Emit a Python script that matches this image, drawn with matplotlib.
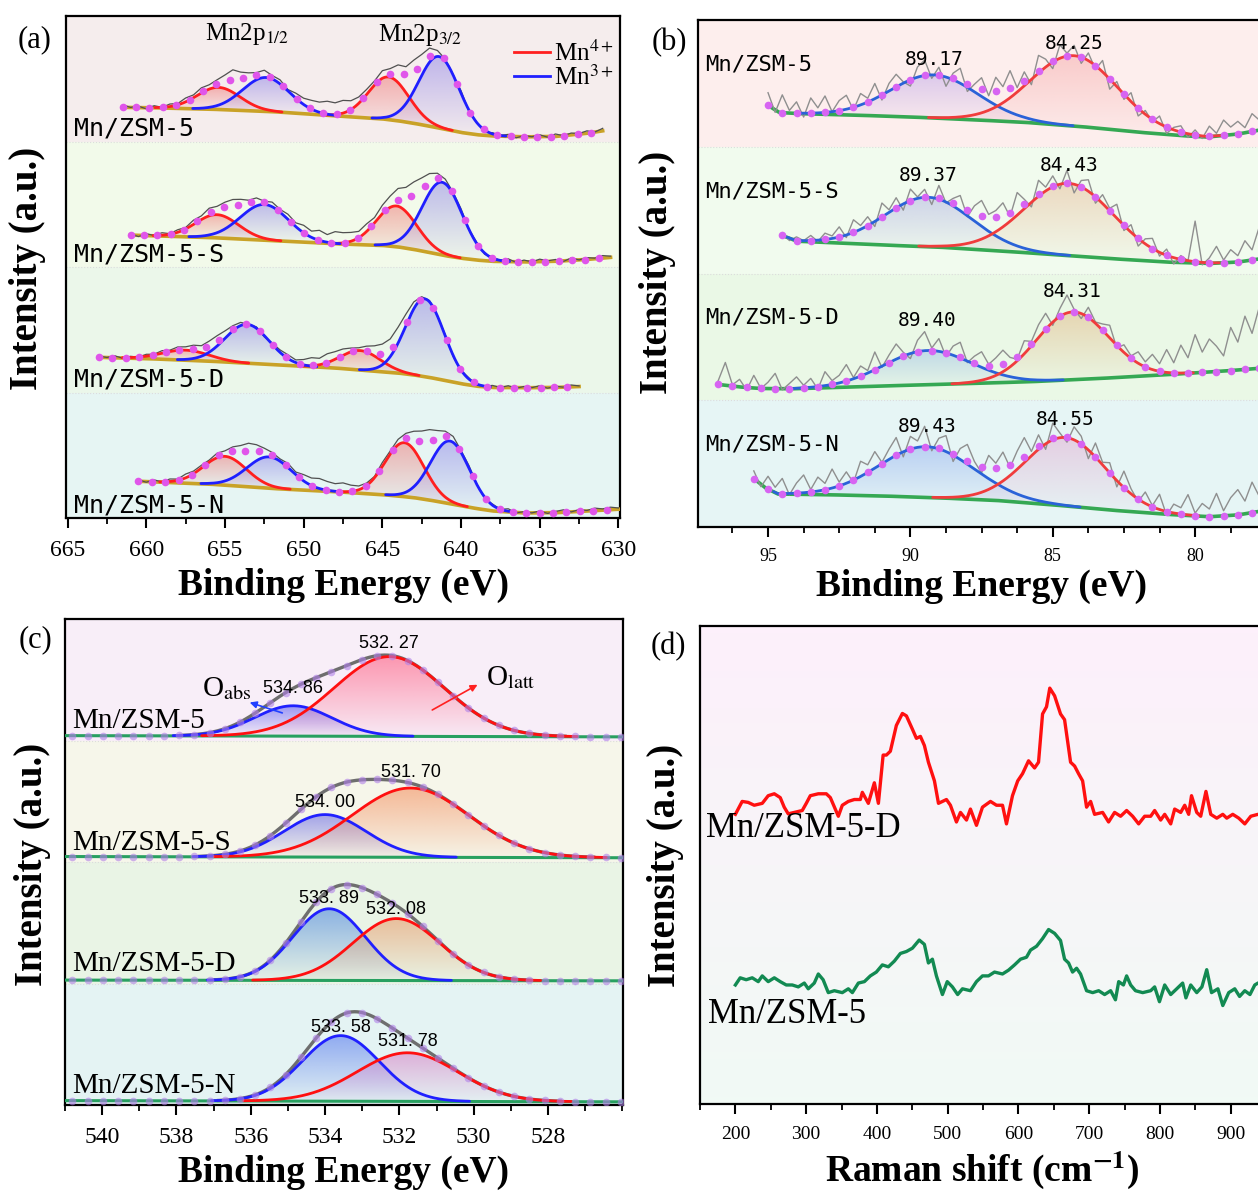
import numpy as np
import matplotlib.pyplot as plt
import matplotlib.colors as mcolors
from matplotlib.ticker import MultipleLocator

plt.rcParams['font.family'] = 'Liberation Serif'
plt.rcParams['mathtext.fontset'] = 'stix'

samples = ['Mn/ZSM-5', 'Mn/ZSM-5-S', 'Mn/ZSM-5-D', 'Mn/ZSM-5-N']

# ---------------- (a) Mn 2p ----------------
# fitted peaks: (centre eV, height, fwhm); heights in units of one strip
a_mn4 = [[(655.4, 0.176, 3.2), (644.6, 0.34, 3.0)],
         [(655.5, 0.185, 3.2), (644.1, 0.325, 3.0)],
         [(657.5, 0.08, 3.5), (646.4, 0.155, 3.0)],
         [(655.0, 0.23, 3.2), (643.6, 0.43, 2.9)]]
a_mn3 = [[(652.4, 0.27, 3.5), (641.4, 0.57, 3.0)],
         [(652.5, 0.285, 3.6), (641.2, 0.58, 3.0)],
         [(653.6, 0.31, 3.3), (642.3, 0.62, 2.9)],
         [(652.2, 0.25, 3.3), (640.7, 0.50, 2.9)]]
# Shirley background read at these energies
a_bg_be = [663.5, 660, 656, 652, 648, 645, 644, 643, 642, 641, 640, 639, 638, 636, 634, 632, 630]
a_bg_0 = [0.275, 0.27, 0.258, 0.238, 0.205, 0.18, 0.165, 0.145, 0.122, 0.097, 0.072, 0.054, 0.044, 0.037, 0.04, 0.065, 0.105]
a_bg_1 = [0.265, 0.25, 0.235, 0.21, 0.185, 0.172, 0.16, 0.14, 0.115, 0.09, 0.07, 0.055, 0.045, 0.04, 0.045, 0.06, 0.082]
a_bg_2 = [0.282, 0.27, 0.25, 0.222, 0.195, 0.165, 0.155, 0.14, 0.12, 0.095, 0.07, 0.05, 0.04, 0.038, 0.04, 0.05, 0.06]
a_bg_3 = [0.31, 0.29, 0.27, 0.235, 0.21, 0.186, 0.175, 0.162, 0.143, 0.12, 0.097, 0.075, 0.056, 0.04, 0.042, 0.055, 0.07]
# raw spectra: first energy, then measured minus fit every 0.5 eV
a_start = [661.5, 661.0, 663.0, 660.5]
a_res_0 = [0.02, 0.0, 0.01, -0.01, 0.015, 0.0, 0.02, 0.01, 0.03, 0.02, 0.035, 0.02, 0.03, 0.05, 0.08, 0.05,
           0.03, 0.02, 0.04, 0.02, 0.03, 0.01, 0.04, 0.05, 0.07, 0.08, 0.10, 0.09, 0.10, 0.07, 0.05, 0.04,
           0.03, 0.05, 0.04, 0.07, 0.06, 0.09, 0.08, 0.07, 0.03, 0.01, 0.0, 0.02, -0.01, 0.0, -0.02, 0.01,
           0.0, 0.015, -0.01, 0.01, 0.0, 0.015, -0.005, 0.02, 0.0, 0.015, 0.005, 0.02, 0.0, 0.02]
a_res_1 = [0.01, -0.01, 0.015, 0.0, 0.02, 0.005, 0.02, 0.01, 0.03, 0.02, 0.04, 0.025, 0.04, 0.05, 0.04, 0.02,
           0.03, 0.01, 0.03, 0.02, 0.04, 0.03, 0.06, 0.05, 0.08, 0.06, 0.09, 0.08, 0.07, 0.05, 0.06, 0.04,
           0.06, 0.07, 0.09, 0.08, 0.10, 0.09, 0.07, 0.04, 0.02, 0.01, 0.02, 0.0, 0.01, -0.01, 0.01, 0.0,
           0.02, -0.005, 0.015, 0.0, 0.02, 0.005, 0.015, -0.005, 0.02, 0.0, 0.015, 0.005, 0.02, 0.01]
a_res_2 = [0.01, 0.0, 0.015, -0.005, 0.01, 0.0, 0.015, 0.005, 0.02, 0.01, 0.025, 0.02, 0.03, 0.02, 0.04, 0.05,
           0.04, 0.03, 0.02, 0.0, 0.01, -0.01, 0.01, 0.02, 0.03, 0.02, 0.04, 0.06, 0.05, 0.07, 0.06, 0.05,
           0.03, 0.02, 0.04, 0.06, 0.08, 0.09, 0.10, 0.08, 0.05, 0.02, 0.01, 0.0, 0.01, -0.01, 0.0, 0.01,
           -0.01, 0.0, 0.015, 0.0, 0.015, -0.005, 0.01, 0.0, 0.015, -0.005, 0.01, 0.0, 0.015, 0.005]
a_res_3 = [0.01, -0.005, 0.015, 0.0, 0.02, 0.01, 0.03, 0.02, 0.02, 0.01, 0.02, 0.01, 0.03, 0.04, 0.06, 0.05,
           0.03, 0.02, 0.01, 0.03, 0.02, 0.05, 0.06, 0.08, 0.07, 0.06, 0.07, 0.05, 0.03, 0.02, 0.01, 0.03,
           0.02, 0.03, 0.04, 0.06, 0.08, 0.09, 0.06, 0.04, 0.03, 0.01, 0.02, 0.0, -0.01, 0.01, 0.0, 0.02,
           -0.005, 0.01, 0.0, 0.015, -0.005, 0.01, 0.02, 0.0, 0.015, 0.005, 0.02, 0.01, 0.02, 0.01]

# ---------------- (b) Mn 3s ----------------
b_blue = [(89.17, 0.34, 3.6), (89.37, 0.39, 3.6), (89.40, 0.27, 3.6), (89.43, 0.40, 3.9)]
b_red = [(84.25, 0.555, 3.6), (84.43, 0.57, 3.7), (84.31, 0.535, 3.0), (84.55, 0.54, 3.3)]
b_bg_x0 = [95.1, 94.6, 94.0, 92, 90, 88, 86, 84, 82, 80.5, 79.6, 78.5, 77.3]
b_bg_0 = [0.34, 0.27, 0.262, 0.25, 0.235, 0.215, 0.193, 0.159, 0.115, 0.088, 0.076, 0.10, 0.15]
b_bg_x1 = [94.5, 94.0, 93.0, 91, 89, 87, 85, 83, 81, 79.5, 78.5, 77.3]
b_bg_1 = [0.30, 0.255, 0.245, 0.225, 0.208, 0.18, 0.15, 0.118, 0.09, 0.079, 0.09, 0.13]
b_bg_x2 = [96.8, 96.0, 95.3, 94.2, 91.4, 88.5, 85.8, 83.5, 81.1, 79.0, 77.3]
b_bg_2 = [0.126, 0.105, 0.093, 0.09, 0.11, 0.128, 0.146, 0.17, 0.20, 0.23, 0.26]
b_bg_x3 = [95.6, 95.1, 94.65, 93, 91, 89, 87, 85, 83, 81, 79.5, 78.5, 77.3]
b_bg_3 = [0.40, 0.31, 0.26, 0.255, 0.245, 0.23, 0.21, 0.175, 0.134, 0.10, 0.081, 0.095, 0.14]
# raw spectra: first energy, then measured minus fit every 0.25 eV
b_start = [95.0, 94.5, 96.75, 95.5]
b_res_0 = [0.10, -0.02, 0.14, 0.02, 0.09, -0.03, 0.12, 0.04, 0.13, 0.0, 0.08, 0.11, -0.02, 0.09, 0.03, 0.12,
           -0.04, 0.06, 0.10, 0.01, -0.05, 0.08, 0.12, -0.03, 0.06, -0.08, 0.04, 0.10, -0.06, 0.02,
           0.09, -0.04, 0.11, 0.03, 0.14, -0.02, 0.07, -0.07, 0.12, 0.05, -0.06, 0.10, 0.02, 0.08, -0.05,
           0.06, -0.03, 0.09, -0.08, 0.04, -0.04, 0.07, -0.06, 0.03, -0.02, 0.06, -0.05, 0.02, 0.05, -0.03,
           0.04, -0.02, 0.08, 0.02, 0.12, 0.06, 0.10, 0.04, 0.14, 0.08, 0.12]
b_res_1 = [0.02, -0.02, 0.03, 0.0, 0.04, -0.01, 0.05, 0.02, 0.08, -0.02, 0.10, 0.03, 0.07, -0.04, 0.11, 0.02,
           0.08, -0.05, 0.09, 0.01, 0.06, -0.06, 0.10, -0.02, 0.04, 0.09, -0.05, 0.06, 0.12, 0.02,
           0.05, 0.10, -0.03, 0.13, 0.04, -0.06, 0.11, 0.02, 0.08, -0.04, 0.10, -0.07, 0.05, 0.09, -0.05,
           0.07, 0.02, 0.11, -0.04, 0.06, -0.06, 0.04, 0.08, -0.03, 0.05, -0.05, 0.03, 0.0, 0.32, -0.02,
           0.04, 0.13, 0.02, 0.10, 0.05, 0.16, 0.08, 0.25, 0.18]
b_res_2 = [0.03, 0.18, 0.01, 0.06, -0.02, 0.10, 0.0, 0.05, 0.12, -0.01, 0.04, 0.09, 0.02, 0.07, -0.02, 0.11,
           0.03, 0.06, 0.13, 0.01, 0.08, 0.02, 0.14, -0.01, 0.06, 0.12, 0.03, -0.04, 0.09, 0.15, 0.02,
           0.10, -0.03, 0.07, 0.12, -0.02, 0.05, 0.10, 0.01, 0.06, 0.11, 0.03, -0.02, 0.08, 0.02, 0.09,
           0.12, -0.03, 0.06, 0.14, 0.02, -0.04, 0.08, 0.01, 0.05, 0.10, -0.02, 0.06, 0.02, 0.09, 0.04,
           0.12, 0.06, 0.18, 0.08, 0.22, 0.12, 0.30, 0.16, 0.26, 0.20, 0.12, 0.34, 0.22, 0.42, 0.28, 0.48, 0.36]
b_res_3 = [0.06, -0.02, 0.10, 0.04, 0.12, -0.01, 0.08, 0.14, 0.02, 0.11, 0.05, 0.15, 0.03, 0.09, -0.02, 0.12,
           0.06, 0.13, 0.01, 0.08, 0.14, -0.04, 0.10, 0.05, 0.16, -0.03, 0.08, 0.12, -0.06, 0.07, 0.13,
           0.02, -0.05, 0.10, 0.04, 0.12, -0.02, 0.08, 0.15, 0.0, 0.09, -0.06, 0.12, 0.03, -0.04, 0.10,
           0.06, -0.07, 0.11, 0.02, 0.08, -0.05, 0.13, 0.04, -0.02, 0.09, 0.01, 0.12, -0.03, 0.07, 0.05,
           0.16, 0.02, 0.10, 0.06, 0.18, 0.04, 0.14, 0.20, 0.10, 0.24, 0.12, 0.28]

# ---------------- (c) O 1s ----------------
c_oabs = [(534.86, 0.25, 2.45), (534.00, 0.35, 2.6), (533.89, 0.59, 2.3), (533.58, 0.54, 2.45)]
c_olatt = [(532.27, 0.656, 3.5), (531.70, 0.57, 3.7), (532.08, 0.51, 2.75), (531.78, 0.40, 3.2)]
c_bg_left = [0.04, 0.045, 0.028, 0.036]
c_bg_right = [0.03, 0.035, 0.022, 0.026]

# ---------------- (d) Raman ----------------
d_x_D = [200, 209.6, 218, 226.6, 238, 246.4, 255, 263.4, 269, 274.7, 283.2, 294.5, 300.2, 305.9, 317.2, 328.5,
         334.2, 345.5, 351.1, 359.6, 368.1, 376.6, 379.4, 387.9, 396.4, 402.1, 408.8, 413.4, 419, 427.5, 436,
         441.7, 450.2, 455.8, 461.5, 467.1, 472.8, 481.3, 487, 498.3, 503.9, 512.4, 518.1, 526.6, 532.2, 540.7,
         549.2, 560.5, 569, 577.5, 583.1, 591.6, 599, 605.8, 614.3, 622.8, 628.4, 634.1, 639.7, 644.3, 651.1,
         659.5, 665.2, 673.7, 679.4, 685, 690.7, 696.3, 702, 707.6, 719, 727.4, 735.9, 744.4, 752.9, 761.4,
         769.9, 778.4, 786.9, 792.5, 801, 806.7, 815.2, 820.8, 829.3, 835, 840.6, 844.6, 852, 857.6, 865,
         871.8, 880.3, 888.8, 894.4, 902.9, 911.4, 919.9, 928.4, 938.5, 950]
d_y_D = [60.6, 63.3, 63.1, 62.5, 62.9, 64.5, 64.9, 64.1, 62.1, 60.7, 61.0, 61.4, 62.9, 64.5, 64.9, 64.9,
         64.1, 60.2, 62.5, 63.3, 63.7, 63.7, 65.2, 62.9, 67.2, 62.9, 73.0, 73.0, 73.8, 79.2, 81.7,
         81.2, 78.4, 76.5, 76.9, 75.0, 71.5, 67.6, 62.9, 63.7, 62.5, 59.0, 61.0, 59.4, 61.7, 58.3,
         62.1, 63.3, 62.5, 62.5, 58.6, 64.5, 67.6, 69.1, 71.8, 70.3, 71.5, 81.6, 83.1, 87.0, 85.4,
         81.6, 80.4, 71.5, 70.7, 69.1, 67.6, 62.1, 63.3, 60.6, 61.0, 59.0, 61.0, 60.2, 61.4, 60.2,
         58.6, 60.2, 60.2, 61.4, 59.4, 60.6, 58.6, 61.7, 61.0, 62.5, 60.6, 64.5, 61.0, 60.2, 65.4,
         60.6, 59.8, 60.6, 59.8, 60.6, 59.8, 58.6, 60.2, 60.6, 60.0]
d_x_0 = [200, 206.8, 215.3, 223.8, 232.3, 238, 246.4, 255, 263.4, 271.9, 280.4, 288.9, 297.4, 303, 311.5, 317.2,
         324, 331.3, 339.8, 351.1, 359.6, 365.3, 373.8, 382.3, 390.7, 399.2, 407.7, 416.2, 424.7, 433.2,
         441.7, 450.2, 459.8, 467.1, 472.8, 478.4, 484.1, 492.6, 499.4, 506.7, 514.1, 520.9, 532.2, 540.7,
         549.2, 557.7, 566.2, 577.5, 586, 594.5, 603, 611.4, 617.1, 625.6, 634.1, 642.6, 651.1, 659.5,
         665.2, 670.9, 676.5, 682.2, 687.8, 696.3, 704.9, 713.4, 721.8, 730.3, 737.1, 741.7, 748.4, 752.9,
         758.6, 765.4, 775.6, 786.9, 792.5, 799.3, 806.7, 815.2, 823.7, 832.1, 836.7, 843.5, 852, 859.3,
         866.1, 872.9, 881.9, 888.8, 897.2, 905.7, 912.5, 919.9, 927.2, 934, 938.5, 950]
d_y_0 = [24.9, 26.4, 26.0, 26.4, 25.6, 26.8, 25.6, 26.4, 25.6, 24.9, 24.9, 24.5, 25.3, 24.1, 25.3, 27.2,
         26.0, 23.3, 23.7, 23.3, 24.1, 23.3, 25.3, 25.6, 26.8, 27.6, 29.1, 28.7, 29.9, 31.5,
         31.9, 32.6, 34.3, 33.4, 29.5, 30.3, 26.8, 22.9, 25.6, 24.5, 22.9, 24.1, 23.7, 25.6,
         26.8, 26.8, 27.6, 27.2, 28.0, 29.1, 30.3, 30.7, 32.2, 33.0, 34.6, 36.5, 35.7, 34.2,
         30.3, 29.5, 27.6, 28.4, 27.2, 23.7, 23.3, 23.7, 22.9, 23.7, 21.8, 25.6, 24.9, 26.8,
         24.9, 23.7, 23.3, 23.7, 24.5, 21.4, 24.9, 22.9, 24.1, 25.3, 22.2, 24.9, 23.3, 24.5,
         28.1, 23.3, 24.1, 20.6, 23.3, 24.1, 22.5, 23.7, 22.9, 24.9, 25.3, 24.8]


def gauss(x, c, h, w):
    return h * np.exp(-4 * np.log(2) * (x - c) ** 2 / w ** 2)


def bgline(x, bx, by):
    return np.interp(x, np.array(bx)[::-1], np.array(by)[::-1])


def grad_fill(ax, x, top, base, color, a_hi, a_lo=0.03, z=2):
    poly = ax.fill_between(x, base, top, color='none', lw=0)
    img = np.zeros((64, 1, 4))
    img[..., :3] = mcolors.to_rgb(color)
    img[..., 3] = np.linspace(a_lo, a_hi, 64)[:, None]
    im = ax.imshow(img, aspect='auto', origin='lower', interpolation='bilinear',
                   extent=[x.min(), x.max(), base.min(), top.max()], zorder=z)
    im.set_clip_path(poly.get_paths()[0], transform=ax.transData)


def comp(ax, xf, base, g, off, lc, fc, a_hi, lw=2.0, thr=0.002):
    m = g > thr
    xs, b, t = xf[m], base[m] + off, base[m] + g[m] + off
    grad_fill(ax, xs, t, b, fc, a_hi)
    ax.plot(xs, t, color=lc, lw=lw, zorder=5, solid_capstyle='round')


def style_x(ax, major, minor, size, pad):
    ax.set_yticks([])
    ax.xaxis.set_major_locator(MultipleLocator(major))
    ax.xaxis.set_minor_locator(MultipleLocator(minor))
    ax.tick_params(axis='x', which='major', length=7, width=1.5, direction='out', labelsize=size, pad=pad)
    ax.tick_params(axis='x', which='minor', length=4, width=1.3, direction='out')
    for s in ax.spines.values():
        s.set_linewidth(1.6)


W, H = 1258, 1192
fig = plt.figure(figsize=(W / 100, H / 100), dpi=100)


def box(l, t, r, b):
    return [l / W, 1 - b / H, (r - l) / W, (b - t) / H]


mono = 'DejaVu Sans Mono'

# ======== panel (a) ========
ax = fig.add_axes(box(66, 16, 620, 518))
a_bgs = [a_bg_0, a_bg_1, a_bg_2, a_bg_3]
a_res = [a_res_0, a_res_1, a_res_2, a_res_3]
strip_a = ['#f5eded', '#f2faea', '#ebf7ea', '#e6f5f3']
for k in range(4):
    off = 3 - k
    ax.axhspan(off, off + 1, color=strip_a[k], lw=0, zorder=0)
    res = np.array(a_res[k])
    xr = a_start[k] - 0.5 * np.arange(len(res))
    xf = np.linspace(a_start[k], xr[-1], 700)
    peaks = a_mn4[k] + a_mn3[k]

    def env(x, k=k, peaks=peaks):
        return bgline(x, a_bg_be, a_bgs[k]) + sum(gauss(x, *p) for p in peaks)

    base = bgline(xf, a_bg_be, a_bgs[k])
    for p in a_mn4[k]:
        comp(ax, xf, base, gauss(xf, *p), off, '#ff1f1f', '#f07070', 0.5)
    for p in a_mn3[k]:
        comp(ax, xf, base, gauss(xf, *p), off, '#1f1fff', '#8a7ee8', 0.5)
    ax.plot(xf, base + off, color='#c9a227', lw=2.6, zorder=4)
    ax.plot(xr, env(xr) + res + off, color='#505050', lw=0.9, zorder=4.5)
    xd = np.arange(a_start[k], xr[-1], -0.85)
    ax.plot(xd, env(xd) + off, 'o', color='#e055ea', ms=5.5, mec='none', zorder=7)
    ax.text(664.6, off + 0.045, samples[k], family=mono, fontsize=18, va='baseline', zorder=8)
    if k:
        ax.axhline(off + 1, color='#dcdcdc', lw=0.8, ls=':', zorder=1)
ax.text(653.6, 3.86, r'Mn2p$_{1/2}$', fontsize=18, ha='center', va='center')
ax.text(642.6, 3.85, r'Mn2p$_{3/2}$', fontsize=18, ha='center', va='center')
for yy, c, lab in [(0.928, '#ff1f1f', r'Mn$^{4+}$'), (0.88, '#1f1fff', r'Mn$^{3+}$')]:
    ax.plot([0.809, 0.874], [yy, yy], color=c, lw=2, transform=ax.transAxes)
    ax.text(0.88, yy - 0.017, lab, fontsize=18, transform=ax.transAxes, va='baseline')
ax.set_xlim(665.1, 629.9)
ax.set_ylim(0, 4)
style_x(ax, 5, 2.5, 17, 9)

# ======== panel (b) ========
ax = fig.add_axes(box(698, 20, 1309, 527))
b_bgx = [b_bg_x0, b_bg_x1, b_bg_x2, b_bg_x3]
b_bgs = [b_bg_0, b_bg_1, b_bg_2, b_bg_3]
b_res = [b_res_0, b_res_1, b_res_2, b_res_3]
strip_b = ['#fdeeed', '#f1fbee', '#eaf8e6', '#e6f5f5']
fill_r = ['#f5a0a0', '#e6b088', '#e2ac72', '#e2a0cc']
fill_b = ['#b49ce8', '#a4a4e0', '#8cb4e8', '#84a4f0']
lab_dy = [(0.12, 0.10), (0.17, 0.14), (0.24, 0.165), (0.16, 0.14)]
for k in range(4):
    off = 3 - k
    ax.axhspan(off, off + 1, color=strip_b[k], lw=0, zorder=0)
    res = np.array(b_res[k])
    xr = b_start[k] - 0.25 * np.arange(len(res))
    xf = np.linspace(b_start[k], xr[-1], 700)
    peaks = [b_blue[k], b_red[k]]

    def env(x, k=k, peaks=peaks):
        return bgline(x, b_bgx[k], b_bgs[k]) + sum(gauss(x, *p) for p in peaks)

    base = bgline(xf, b_bgx[k], b_bgs[k])
    comp(ax, xf, base, gauss(xf, *b_blue[k]), off, '#2a62d8', fill_b[k], 0.45)
    comp(ax, xf, base, gauss(xf, *b_red[k]), off, '#f03c3c', fill_r[k], 0.45)
    ax.plot(xf, base + off, color='#35a853', lw=2.6, zorder=4)
    ax.plot(xr, env(xr) + res + off, color='#8f8f8f', lw=1.0, zorder=4.5)
    xd = np.arange(b_start[k], xr[-1], -0.5)
    ax.plot(xd, env(xd) + off, 'o', color='#d764f2', ms=5.5, mec='none', zorder=7)
    ax.text(97.2, off + 0.65, samples[k], family=mono, fontsize=16, va='center', zorder=8)
    for p, dy in zip([b_blue[k], b_red[k]], lab_dy[k]):
        ytop = bgline(p[0], b_bgx[k], b_bgs[k]) + p[1] + off + dy
        ax.text(p[0], ytop, f'{p[0]:.2f}', family=mono, fontsize=14, ha='center', va='center', zorder=8)
    if k:
        ax.axhline(off + 1, color='#dcdcdc', lw=0.8, ls=':', zorder=1)
ax.set_xlim(97.46, 76.0)
ax.set_ylim(0, 4)
style_x(ax, 5, 1.25, 13, 8)

# ======== panel (c) ========
ax = fig.add_axes(box(65, 619, 623, 1105))
strip_c = ['#f8eef8', '#f6f6ea', '#e9f4e5', '#e4f3f3']
cfill_r = ['#ff5c80', '#f49060', '#e89a6a', '#d884c8']
cfill_b = ['#5a5af0', '#6a6ae6', '#4c86e0', '#5a7cf0']
c_lab_y = [(0.43, 0.80), (0.49, 0.74), (0.70, 0.61), (0.64, 0.52)]
xf = np.linspace(541, 526, 800)
for k in range(4):
    off = 3 - k
    ax.axhspan(off, off + 1, color=strip_c[k], lw=0, zorder=0)
    base = np.interp(xf, [526, 541], [c_bg_right[k], c_bg_left[k]])
    gb, gr = gauss(xf, *c_oabs[k]), gauss(xf, *c_olatt[k])
    comp(ax, xf, base, gb, off, '#2020ff', cfill_b[k], 0.6)
    comp(ax, xf, base, gr, off, '#ff1010', cfill_r[k], 0.6)
    ax.plot(xf, base + off, color='#28a060', lw=2.2, zorder=4)
    envc = base + gb + gr
    m = (gb + gr) > 0.004
    ax.plot(xf[m], envc[m] + off, color='#6e6e6e', lw=2.4, zorder=4.5)
    xd = np.arange(540.8, 526, -0.41)
    yd = np.interp(xd, [526, 541], [c_bg_right[k], c_bg_left[k]]) + gauss(xd, *c_oabs[k]) + gauss(xd, *c_olatt[k])
    ax.plot(xd, yd + off, 'o', color='#b080e8', alpha=0.6, ms=5.5, mec='none', zorder=7)
    ax.text(540.8, off + 0.10, samples[k], fontsize=21, va='baseline', zorder=8)
    for p, yy in zip([c_oabs[k], c_olatt[k]], c_lab_y[k]):
        ax.text(p[0], off + yy, f'{p[0]:.2f}'.replace('.', '. '), family='Liberation Sans',
                fontsize=13, ha='center', va='center', zorder=8)
    if k:
        ax.axhline(off + 1, color='#dcdcdc', lw=0.8, ls=':', zorder=1)
ax.text(537.3, 3.43, r'O$_{\rm abs}$', fontsize=21, va='center', zorder=8)
ax.text(529.67, 3.52, r'O$_{\rm latt}$', fontsize=21, va='center', zorder=8)
ax.annotate('', xy=(536.1, 3.32), xytext=(535.08, 3.22),
            arrowprops=dict(arrowstyle='-|>', color='#2040ff', lw=1.2, mutation_scale=10), zorder=8)
ax.annotate('', xy=(529.83, 3.47), xytext=(531.18, 3.24),
            arrowprops=dict(arrowstyle='-|>', color='#ff2020', lw=1.2, mutation_scale=10), zorder=8)
ax.set_xlim(541, 525.98)
ax.set_ylim(0, 4)
style_x(ax, 2, 1, 17, 9)
ax.set_xticks([540, 538, 536, 534, 532, 530, 528])

# ======== panel (d) ========
ax = fig.add_axes(box(700, 626, 1294.4, 1104))
bgimg = np.zeros((64, 1, 3))
bgimg[..., :] = np.linspace(np.array(mcolors.to_rgb('#f1faf5')), np.array(mcolors.to_rgb('#fdf0fb')), 64)[:, None, :]
ax.imshow(bgimg, aspect='auto', origin='lower', extent=[150, 990, 0, 100], zorder=0)
ax.plot(d_x_D, d_y_D, color='#ff1010', lw=2.4, zorder=3)
ax.plot(d_x_0, d_y_0, color='#128a52', lw=2.4, zorder=3)
ax.text(158.6, 55.8, 'Mn/ZSM-5-D', fontsize=25, va='baseline')
ax.text(161.4, 17.0, 'Mn/ZSM-5', fontsize=25, va='baseline')
ax.set_xlim(150, 990)
ax.set_ylim(0, 100)
style_x(ax, 100, 50, 14, 9)


# ======== shared labels ========
def ftxt(x, y, s, **kw):
    fig.text(x / W, 1 - y / H, s, ha='center', va='center', **kw)


ftxt(35, 40, '(a)', fontsize=22)
ftxt(669, 43, '(b)', fontsize=22)
ftxt(36, 640, '(c)', fontsize=22)
ftxt(668, 647, '(d)', fontsize=22)
for x, y in [(28, 268), (657, 272), (33, 864), (666, 865)]:
    ftxt(x, y, 'Intensity (a.u.)', rotation=90, fontsize=28, fontweight='bold')
ftxt(344, 585, 'Binding Energy (eV)', fontsize=27, fontweight='bold')
ftxt(982, 586, 'Binding Energy (eV)', fontsize=27, fontweight='bold')
ftxt(344, 1172, 'Binding Energy (eV)', fontsize=27, fontweight='bold')
ftxt(982, 1170, r'Raman shift (cm$^{\mathbf{-1}}$)', fontsize=27, fontweight='bold')

fig.savefig('out.png', dpi=100)
